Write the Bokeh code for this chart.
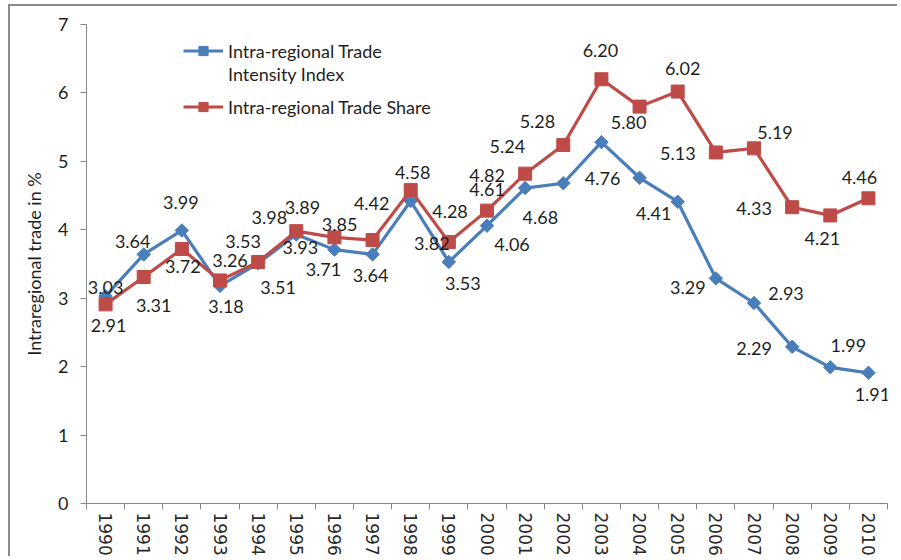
import math
from bokeh.plotting import figure
from bokeh.models import FixedTicker, Legend, LegendItem, ColumnDataSource, Range1d, InlineStyleSheet
from bokeh.core.properties import value
from bokeh.embed import file_html
from bokeh.resources import INLINE

# ---- data ----
years = list(range(1990, 2011))
intensity_index = [3.03, 3.64, 3.99, 3.18, 3.51, 3.93, 3.71, 3.64, 4.42, 3.53, 4.06,
                   4.61, 4.68, 5.28, 4.76, 4.41, 3.29, 2.93, 2.29, 1.99, 1.91]
trade_share = [2.91, 3.31, 3.72, 3.26, 3.53, 3.98, 3.89, 3.85, 4.58, 3.82, 4.28,
               4.82, 5.24, 6.20, 5.80, 6.02, 5.13, 5.19, 4.33, 4.21, 4.46]
y_ticks = [0, 1, 2, 3, 4, 5, 6, 7]
series_names = ["Intra-regional Trade", "Intensity Index", "Intra-regional Trade Share"]
y_title = "Intraregional trade in %"

# ---- label placement (pixel offsets from each point, styling only) ----
blue_dx = [0, -11, -1, 6, 20, 4, -11, -2, -39, 14, 25, -38, -23, -64, -37, -24, -28, 32, -38, 18, 4]
blue_dy = [-9, -13, -28, 21, 24, 13, 20, 21, 2, 22, 19, 1, 34, -21, 1, 12, 9, -10, 2, -22, 22]
red_dx = [3, 10, 1, 10, -15, -27, -32, -33, 2, -17, -37, -38, -56, -1, -11, 5, -38, 21, -38, -8, -9]
red_dy = [21, 28, 18, -20, -20, -14, -30, -16, -18, 1, 1, 2, 2, -29, 16, -23, 1, -16, 1, 23, -21]

BLUE = "#4a7ebb"
RED = "#be4b48"
AXIS = "#868686"
TXT = "#1f1f1f"
FONT = "Lato"

p = figure(width=889, height=552, output_backend="svg", toolbar_location=None,
           x_range=Range1d(1989.5, 2010.5), y_range=Range1d(0, 7),
           min_border_left=76, min_border_right=12, min_border_top=18, min_border_bottom=55,
           margin=(4, 0, 0, 8))
p.stylesheets = [InlineStyleSheet(css=":host { border-left: 2px solid #8a8a8a; border-top: 2px solid #8a8a8a; }")]
p.background_fill_color = "white"
p.border_fill_color = "white"
p.outline_line_color = None
p.grid.visible = False

blue_src = ColumnDataSource(dict(x=years, y=intensity_index,
                                 label=["%.2f" % v for v in intensity_index],
                                 dx=blue_dx, dy=blue_dy))
red_src = ColumnDataSource(dict(x=years, y=trade_share,
                                label=["%.2f" % v for v in trade_share],
                                dx=red_dx, dy=red_dy))

bl = p.line("x", "y", source=blue_src, line_color=BLUE, line_width=3.2)
bm = p.scatter("x", "y", source=blue_src, marker="square", angle=math.pi / 4, size=9.5,
               fill_color=BLUE, line_color=BLUE)
rl = p.line("x", "y", source=red_src, line_color=RED, line_width=3.2)
rm = p.scatter("x", "y", source=red_src, marker="square", size=13,
               fill_color=RED, line_color=RED)

for src in (blue_src, red_src):
    p.text("x", "y", text="label", x_offset="dx", y_offset="dy", source=src,
           text_align="center", text_baseline="middle", text_font=value(FONT),
           text_font_size="18px", text_color=TXT)

dummy = p.line(x=[], y=[], line_alpha=0)

# axes
xa = p.xaxis[0]
xa.ticker = FixedTicker(ticks=years, minor_ticks=[y - 0.5 for y in years] + [years[-1] + 0.5])
xa.major_tick_out = 0
xa.major_tick_in = 0
xa.minor_tick_out = 6
xa.minor_tick_in = 0
xa.minor_tick_line_color = AXIS
xa.axis_line_color = AXIS
xa.major_label_orientation = -math.pi / 2
xa.major_label_text_font = "DejaVu Sans"
xa.major_label_text_font_size = "17px"
xa.major_label_text_color = "#2a2a2a"
xa.major_label_standoff = 3

ya = p.yaxis[0]
ya.ticker = FixedTicker(ticks=y_ticks, minor_ticks=[])
ya.major_tick_out = 6
ya.major_tick_in = 0
ya.major_tick_line_color = AXIS
ya.axis_line_color = AXIS
ya.minor_tick_line_color = None
ya.major_label_text_font = FONT
ya.major_label_text_font_size = "18px"
ya.major_label_text_color = TXT
ya.major_label_standoff = 12
ya.axis_label = y_title
ya.axis_label_text_font = FONT
ya.axis_label_text_font_size = "18px"
ya.axis_label_text_font_style = "normal"
ya.axis_label_text_color = TXT
ya.axis_label_standoff = 10

common = dict(padding=0, margin=0, spacing=0, glyph_width=40, glyph_height=23,
              label_height=23, label_standoff=5, label_text_font=FONT,
              label_text_font_size="18px", label_text_color=TXT,
              background_fill_alpha=0, border_line_color=None)
leg_a = Legend(items=[LegendItem(label=series_names[0], renderers=[bl, bm]),
                      LegendItem(label=series_names[1], renderers=[dummy])],
               location=(97, 418), **common)
leg_b = Legend(items=[LegendItem(label=series_names[2], renderers=[rl, rm])],
               location=(97, 385), **common)
p.add_layout(leg_a)
p.add_layout(leg_b)

open("out.html", "w").write(file_html(p, INLINE))
